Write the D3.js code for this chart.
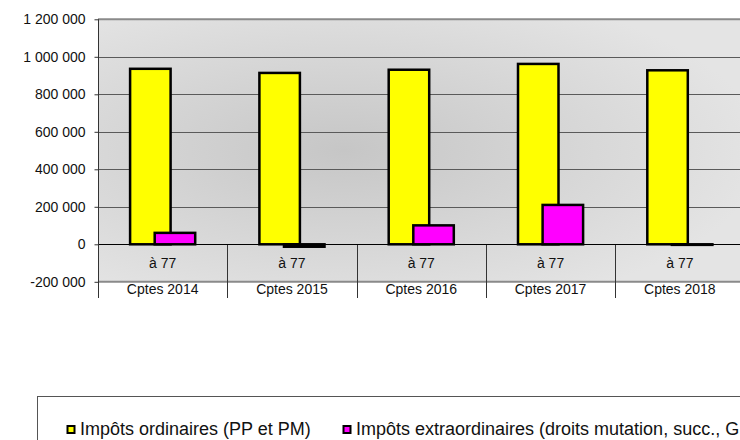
<!DOCTYPE html>
<html>
<head>
<meta charset="utf-8">
<script src="https://cdn.jsdelivr.net/npm/d3@7"></script>
<style>
  body { margin: 0; background: #fff; }
  svg { display: block; font-family: "Liberation Sans", Arial, sans-serif; }
</style>
</head>
<body>
<div id="graph"></div>
<script>
// categories (outer level) and inner label
var categories = ["Cptes 2014", "Cptes 2015", "Cptes 2016", "Cptes 2017", "Cptes 2018"];
var innerLabels = ["à 77", "à 77", "à 77", "à 77", "à 77"];
// series values
var ordinaires = [936000, 914000, 931000, 962000, 928000];
var extraordinaires = [61000, -13000, 101000, 210000, -3000];
var seriesNames = ["Impôts ordinaires (PP et PM)", "Impôts extraordinaires (droits mutation, succ., G"];
var seriesColors = ["#ffff00", "#ff00ff"];
var yTicks = [-200000, 0, 200000, 400000, 600000, 800000, 1000000, 1200000];

function draw_function() {
    var svg = d3.select("#graph")
        .append("svg")
        .attr("width", 740).attr("height", 440);

    var left = 98, right = 744.5, top = 19.3, bottom = 281.8;

    var x = d3.scaleBand().domain(categories).range([left, right]).padding(0);
    var y = d3.scaleLinear().domain([-200000, 1200000]).range([bottom, top]);
    var shift = d3.scalePoint().domain([0, 1]).range([-12.3, 12.3]);
    var barW = 40.5;

    // plot background with soft radial shading
    var defs = svg.append("defs");
    var grad = defs.append("radialGradient")
        .attr("id", "bg").attr("cx", "38%").attr("cy", "50%").attr("r", "65%");
    grad.append("stop").attr("offset", "0%").attr("stop-color", "#c6c6c6");
    grad.append("stop").attr("offset", "100%").attr("stop-color", "#e4e4e4");

    svg.append("rect")
        .attr("x", left).attr("y", top)
        .attr("width", right - left).attr("height", bottom - top)
        .attr("fill", "url(#bg)");

    // gridlines
    svg.selectAll("line.grid")
        .data(yTicks.filter(function(d) { return d > 0 && d < 1200000; }))
        .enter().append("line")
        .attr("class", "grid")
        .attr("x1", left).attr("x2", right)
        .attr("y1", function(d) { return Math.round(y(d)) + 0.5; })
        .attr("y2", function(d) { return Math.round(y(d)) + 0.5; })
        .attr("stroke", "#5a5a5a").attr("stroke-width", 1);

    // top and bottom borders of plot
    svg.append("line")
        .attr("x1", left).attr("x2", right)
        .attr("y1", y(1200000)).attr("y2", y(1200000))
        .attr("stroke", "#8a8a8a").attr("stroke-width", 2);
    svg.append("line")
        .attr("x1", left).attr("x2", right)
        .attr("y1", y(-200000)).attr("y2", y(-200000))
        .attr("stroke", "#8a8a8a").attr("stroke-width", 2);

    // category separators
    svg.selectAll("line.sep")
        .data(categories.slice(1).concat(["end"]))
        .enter().append("line")
        .attr("class", "sep")
        .attr("x1", function(d, i) { return Math.round(left + (i + 1) * x.bandwidth()) + 0.5; })
        .attr("x2", function(d, i) { return Math.round(left + (i + 1) * x.bandwidth()) + 0.5; })
        .attr("y1", y(0)).attr("y2", 298)
        .attr("stroke", "#333").attr("stroke-width", 1);

    // bars: yellow then magenta on top
    var series = [ordinaires, extraordinaires];
    series.forEach(function(vals, s) {
        svg.selectAll("rect.s" + s)
            .data(vals)
            .enter().append("rect")
            .attr("class", "s" + s)
            .attr("x", function(d, i) { return x(categories[i]) + x.bandwidth() / 2 + shift(s) - barW / 2; })
            .attr("y", function(d) { return y(Math.max(0, d)); })
            .attr("width", barW)
            .attr("height", function(d) { return Math.abs(y(d) - y(0)); })
            .attr("fill", seriesColors[s])
            .attr("stroke", "#000").attr("stroke-width", 2.5);
    });

    // zero line
    svg.append("line")
        .attr("x1", left).attr("x2", right)
        .attr("y1", Math.round(y(0)) + 0.5).attr("y2", Math.round(y(0)) + 0.5)
        .attr("stroke", "#000").attr("stroke-width", 1);

    // y axis
    var yAxis = svg.append("g")
        .attr("transform", "translate(" + (left + 0.5) + ",0)")
        .call(d3.axisLeft(y).tickValues(yTicks).tickSizeInner(4).tickSizeOuter(0).tickPadding(9)
            .tickFormat(function(d) { return d3.format(",")(d).replace(/,/g, " ").replace("−", "-"); }));
    yAxis.select(".domain").attr("d", "M0," + top + "V298").attr("stroke", "#333");
    yAxis.selectAll(".tick line").attr("stroke", "#333");
    yAxis.selectAll("text").attr("font-size", 14).attr("fill", "#111")
        .attr("font-family", "Liberation Sans, Arial, sans-serif");

    // inner labels
    svg.selectAll("text.inner")
        .data(innerLabels)
        .enter().append("text")
        .attr("class", "inner")
        .attr("x", function(d, i) { return x(categories[i]) + x.bandwidth() / 2; })
        .attr("y", (y(0) + y(-200000)) / 2 + 5)
        .attr("text-anchor", "middle")
        .attr("font-size", 14).attr("fill", "#111")
        .text(function(d) { return d; });

    // outer category labels
    svg.selectAll("text.cat")
        .data(categories)
        .enter().append("text")
        .attr("class", "cat")
        .attr("x", function(d) { return x(d) + x.bandwidth() / 2; })
        .attr("y", 294)
        .attr("text-anchor", "middle")
        .attr("font-size", 14).attr("fill", "#111")
        .text(function(d) { return d; });

    // legend
    svg.append("rect")
        .attr("x", 37.5).attr("y", 396.5)
        .attr("width", 720).attr("height", 60)
        .attr("fill", "#fff").attr("stroke", "#555").attr("stroke-width", 1);

    var legendX = [67, 343];
    var lg = svg.selectAll("g.leg")
        .data(seriesNames)
        .enter().append("g")
        .attr("class", "leg")
        .attr("transform", function(d, i) { return "translate(" + legendX[i] + ",0)"; });
    lg.append("rect")
        .attr("x", 0.5).attr("y", 426)
        .attr("width", 7).attr("height", 7)
        .attr("fill", function(d, i) { return seriesColors[i]; })
        .attr("stroke", "#000").attr("stroke-width", 2);
    lg.append("text")
        .attr("x", 13).attr("y", 435)
        .attr("font-size", 18).attr("fill", "#111")
        .text(function(d) { return d; });
}

window.onload = draw_function;
</script>
</body>
</html>
